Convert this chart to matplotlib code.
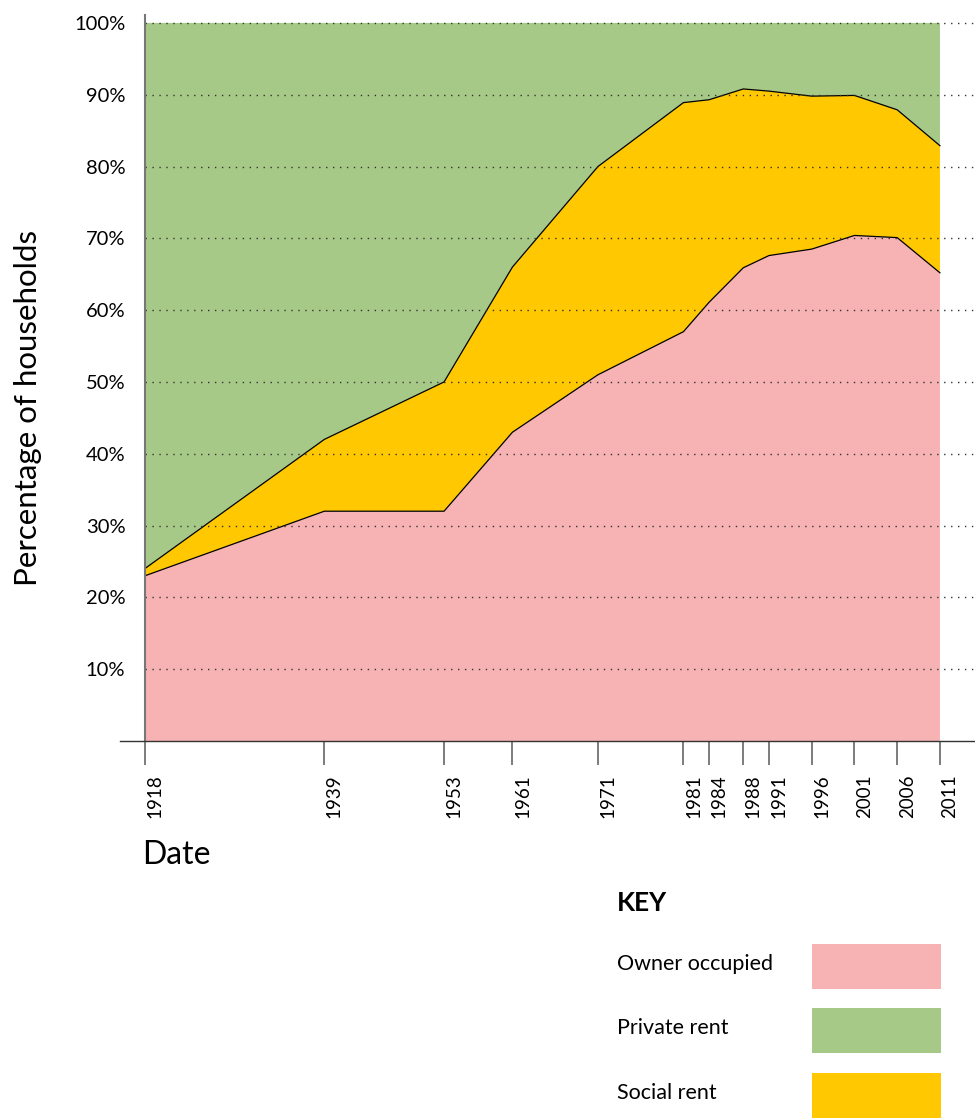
import matplotlib.pyplot as plt
import matplotlib.transforms as mtransforms
from matplotlib.patches import Rectangle

years = [1918, 1939, 1953, 1961, 1971, 1981, 1984, 1988, 1991, 1996, 2001, 2006, 2011]
owner = [23, 32, 32, 43, 51, 57, 61.1, 65.9, 67.6, 68.5, 70.4, 70.1, 65.2]
social = [1, 10, 18, 23, 29, 31.9, 28.2, 24.9, 22.9, 21.3, 19.5, 17.8, 17.7]
private = [100 - o - s for o, s in zip(owner, social)]

pink = '#F7B2B3'
green = '#A6C988'
yellow = '#FFC800'

plt.rcParams['font.family'] = ['Lato', 'DejaVu Sans']

fig = plt.figure(figsize=(9.75, 11.18), dpi=100)
ax = fig.add_axes([120 / 975, 1 - 741 / 1118, 1 - 120 / 975, (741 - 15) / 1118])

ax.stackplot(years, owner, social, private, colors=[pink, yellow, green], linewidth=0)
owner_top = owner
social_top = [o + s for o, s in zip(owner, social)]
ax.plot(years, owner_top, color='black', lw=0.9)
ax.plot(years, social_top, color='black', lw=0.9)
ax.plot([1918, 1918], [0, 44], color='black', lw=1.2)

ax.set_xlim(1915.1, 2015.1)
ax.set_ylim(0, 101.1)

# dotted grid lines from the left spine to the right edge
for v in range(10, 101, 10):
    ax.plot([1918, 2015.1], [v, v], color='#333333', lw=1.0, ls=(0, (1, 4)))

ax.spines['top'].set_visible(False)
ax.spines['right'].set_visible(False)
ax.spines['left'].set_position(('data', 1918))
ax.spines['left'].set_color('#777777')
ax.spines['left'].set_linewidth(1.5)
ax.spines['bottom'].set_color('#333333')
ax.spines['bottom'].set_linewidth(1.0)

ax.set_xticks(years)
ax.set_xticklabels([str(y) for y in years], rotation=90, fontsize=13.5)
ax.tick_params(axis='x', length=17, width=1.2, color='#666666', pad=7)
shift = mtransforms.ScaledTranslation(0.1, 0, fig.dpi_scale_trans)
for lab in ax.get_xticklabels():
    lab.set_transform(lab.get_transform() + shift)

ax.set_yticks(range(10, 101, 10))
ax.set_yticklabels([f'{v}%' for v in range(10, 101, 10)], fontsize=14.5)
ax.tick_params(axis='y', length=0, pad=14)

fig.text(28 / 975, 1 - 408 / 1118, 'Percentage of households', rotation=90,
         fontsize=22.5, ha='center', va='center')
fig.text(142 / 975, 1 - 855 / 1118, 'Date', fontsize=23, ha='left', va='center')

# key
fig.text(617 / 975, 1 - 903 / 1118, 'KEY', fontsize=19, fontweight='bold', ha='left', va='center')
labels = ['Owner occupied', 'Private rent', 'Social rent']
key_colors = [pink, green, yellow]
tops = [944, 1008, 1073]
for lab, col, t in zip(labels, key_colors, tops):
    fig.text(617 / 975, 1 - (t + 20) / 1118, lab, fontsize=15.5, ha='left', va='center')
    fig.add_artist(Rectangle((812 / 975, 1 - (t + 45) / 1118), 129 / 975, 45 / 1118,
                             transform=fig.transFigure, color=col, lw=0))

fig.savefig('out.png', dpi=100)
